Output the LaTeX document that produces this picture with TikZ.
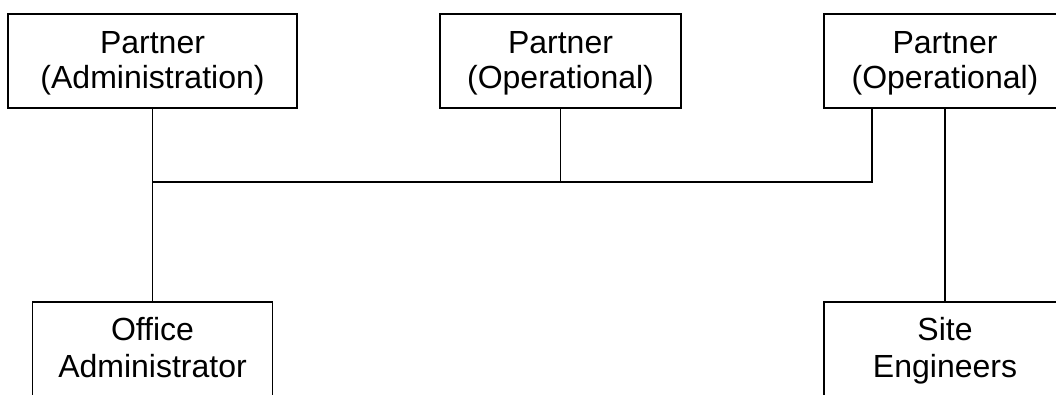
\documentclass[tikz,border=0pt]{standalone}
\usepackage{fontspec}
\setmainfont{Liberation Sans}
\begin{document}
\begin{tikzpicture}[x=1pt,y=-1pt,
  box/.style={draw, line width=1.6pt, rectangle, inner xsep=0pt, anchor=north, align=center},
  topbox/.style={box, font=\fontsize{32}{35}\selectfont, text height=58pt, inner ysep=17pt, text depth=2pt},
  botbox/.style={box, font=\fontsize{32}{37}\selectfont, text height=60pt, inner ysep=16pt, text depth=60pt},
  conn/.style={line width=1.6pt}]
\useasboundingbox (0,0) rectangle (1056,395);
\clip (0,0) rectangle (1056,395);
\node[topbox, minimum width=289pt] (pa) at (152.5,13) {Partner\\(Administration)};
\node[topbox, minimum width=241pt] (po1) at (560.5,13) {Partner\\(Operational)};
\node[topbox, minimum width=242pt] (po2) at (945,13) {Partner\\(Operational)};
\node[botbox, minimum width=240pt] (oa) at (152.5,301) {Office\\Administrator};
\node[botbox, minimum width=242pt] (se) at (945,301) {Site\\Engineers};
\coordinate (hl) at (152.5,182);
\coordinate (po2a) at ([xshift=49pt]po2.south west);
\draw[conn] (pa.south) -- (oa.north);
\draw[conn] (po1.south) -- (po1.south |- hl);
\draw[conn] (po2a) |- (hl);
\draw[conn] (po2.south) -- (se.north);
\end{tikzpicture}
\end{document}
